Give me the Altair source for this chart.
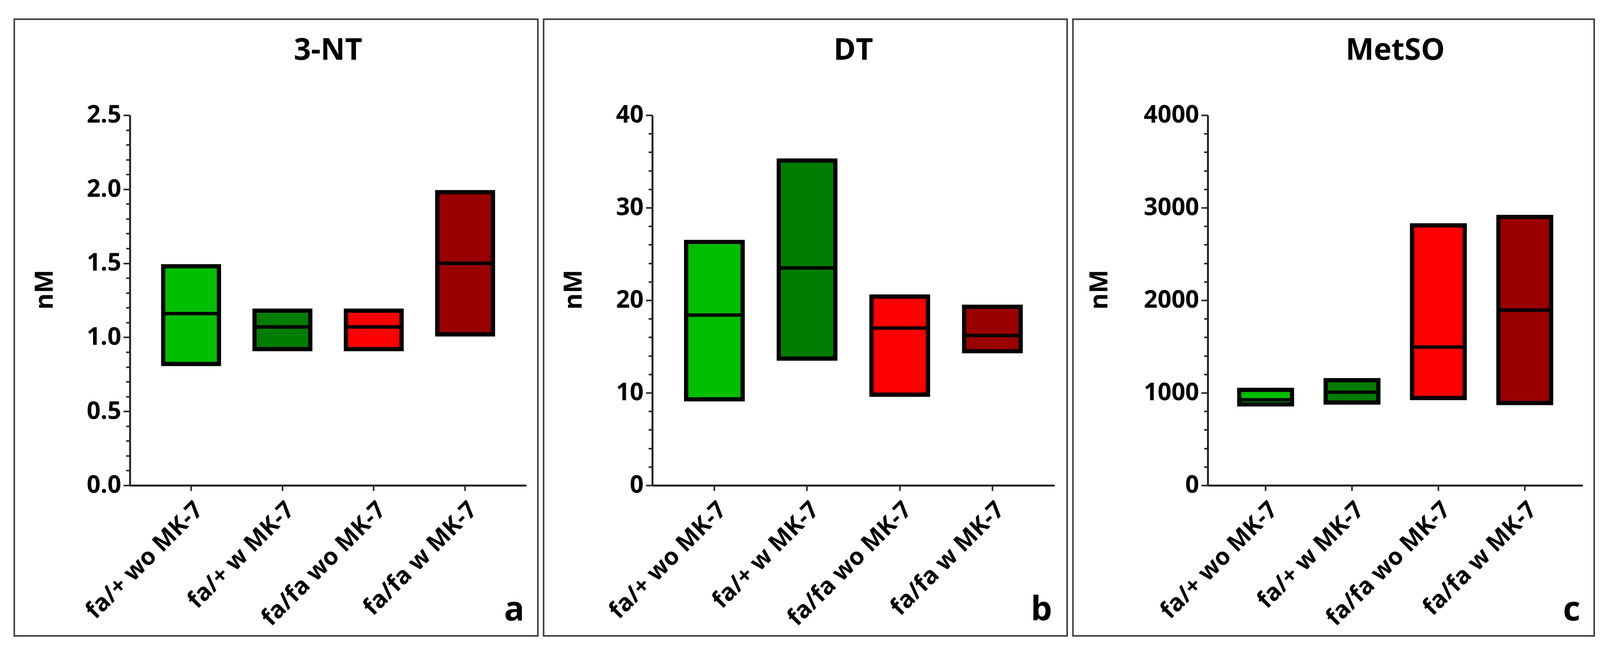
import altair as alt
import pandas as pd

categories = ["fa/+ wo MK-7", "fa/+ w MK-7", "fa/fa wo MK-7", "fa/fa w MK-7"]
colors = ["#00BE00", "#007D00", "#FF0000", "#9B0000"]

nt_min = [0.82, 0.92, 0.92, 1.02]
nt_max = [1.48, 1.18, 1.18, 1.98]
nt_med = [1.16, 1.07, 1.07, 1.50]

dt_min = [9.3, 13.7, 9.8, 14.5]
dt_max = [26.3, 35.1, 20.4, 19.3]
dt_med = [18.4, 23.5, 17.0, 16.2]

met_min = [875, 895, 944, 890]
met_max = [1032, 1136, 2810, 2900]
met_med = [924, 1007, 1494, 1894]

titles = ["3-NT", "DT", "MetSO"]
letters = ["a", "b", "c"]
y_label = "nM"

FONT = "Open Sans"
H = 964
PI, PO = 0.39, 0.365


def panel(name, letter, vmin, vmax, vmed, ymax, major, minor, fmt, width,
          rect_x0, rect_x1, title_x, letter_x):
    df = pd.DataFrame({"cat": categories, "lo": vmin, "hi": vmax, "med": vmed})
    step = width / (len(categories) - PI + 2 * PO)
    bw = step * (1 - PI)

    nticks = int(round(ymax / minor))
    tick_vals = [round(i * minor, 6) for i in range(nticks + 1)]
    test = f"abs(datum.value / {major} - round(datum.value / {major})) < 0.001"

    yaxis = alt.Axis(
        values=tick_vals,
        labelExpr=f"{test} ? format(datum.value, '{fmt}') : ''",
        labelOverlap=False,
        labelFlush=False,
        labelFont=FONT, labelFontSize=63, labelFontWeight="bold", labelColor="black",
        labelPadding=6,
        tickSize={"condition": {"test": test, "value": 17}, "value": 10},
        tickWidth=4, tickColor="#222222",
        domainWidth=5, domainColor="#222222",
        grid=False,
        title=y_label, titleFont=FONT, titleFontSize=65, titleFontWeight="bold",
        titleColor="black", titleX=title_x, titleY=454, titleBaseline="alphabetic",
        titleAlign="center", titleAngle=-90,
    )
    xaxis = alt.Axis(
        title=None, labelAngle=-45, labelAlign="right", labelBaseline="top",
        labelFont=FONT, labelFontSize=62, labelFontWeight="bold", labelColor="black",
        labelPadding=18, labelLimit=0, tickSize=14, tickWidth=4, tickColor="#222222",
        domainWidth=5, domainColor="#222222", grid=False,
    )
    xenc = alt.X("cat:N", sort=categories,
                 scale=alt.Scale(domain=categories, paddingInner=PI, paddingOuter=PO),
                 axis=xaxis)
    yscale = alt.Scale(domain=[0, ymax], nice=False, zero=True)

    border = alt.Chart(pd.DataFrame({"k": [0]})).mark_rect(
        fill="transparent", stroke="#3b3b3b", strokeWidth=4
    ).encode(x=alt.value(rect_x0), x2=alt.value(rect_x1),
             y=alt.value(-250), y2=alt.value(1356))

    bars = alt.Chart(df).mark_bar(stroke="black", strokeWidth=11, opacity=1).encode(
        x=xenc,
        y=alt.Y("lo:Q", scale=yscale, axis=yaxis),
        y2="hi:Q",
        color=alt.Color("cat:N", scale=alt.Scale(domain=categories, range=colors), legend=None),
    )
    meds = alt.Chart(df).mark_tick(color="black", thickness=9, size=bw, opacity=1).encode(
        x=xenc,
        y=alt.Y("med:Q", scale=yscale, axis=yaxis),
    )
    ttl = alt.Chart(pd.DataFrame({"t": [name]})).mark_text(
        font=FONT, fontSize=78, fontWeight="bold", color="black",
        align="center", baseline="alphabetic"
    ).encode(x=alt.value(width / 2), y=alt.value(-144), text="t:N")
    let = alt.Chart(pd.DataFrame({"t": [letter]})).mark_text(
        font=FONT, fontSize=88, fontWeight="bold", color="black",
        align="right", baseline="alphabetic"
    ).encode(x=alt.value(letter_x), y=alt.value(1316), text="t:N")

    return alt.layer(border, bars, meds, ttl, let).properties(width=width, height=H)


pa = panel(titles[0], letters[0], nt_min, nt_max, nt_med, 2.5, 0.5, 0.1, ".1f", 1032,
           -301, 1062, -201, 1027)
pb = panel(titles[1], letters[1], dt_min, dt_max, dt_med, 40, 10, 2, "d", 1047,
           -283, 1080, -184, 1041)
pc = panel(titles[2], letters[2], met_min, met_max, met_med, 4000, 1000, 200, "d", 976,
           -351, 1006, -262, 970)

chart = alt.hconcat(pa, pb, pc, spacing=11).properties(
    padding={"left": 27, "top": 26, "right": 5, "bottom": 5}
).configure_view(strokeWidth=0)

chart.save("out.html", embed_options={"renderer": "svg", "actions": False})
